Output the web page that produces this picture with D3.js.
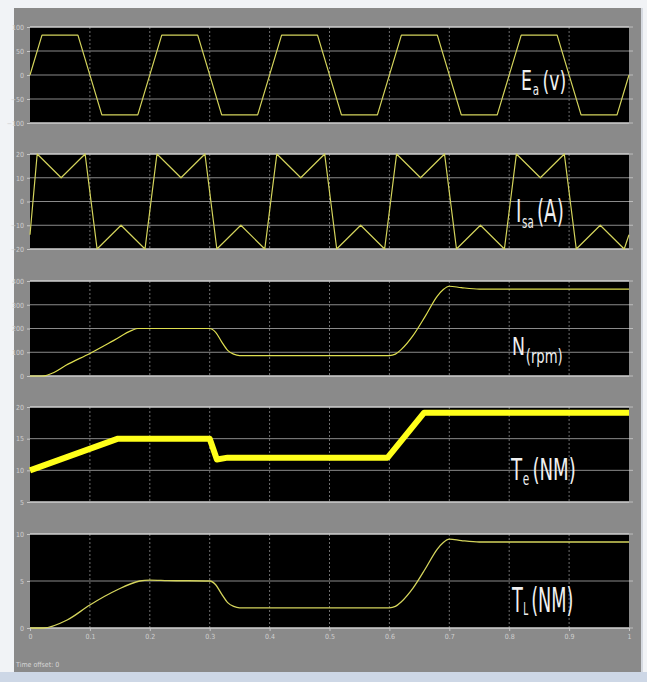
<!DOCTYPE html>
<html>
<head>
<meta charset="utf-8">
<script src="https://cdn.jsdelivr.net/npm/d3@7"></script>
<style>
  html, body { margin: 0; padding: 0; background: #ffffff; }
  svg { display: block; }
</style>
</head>
<body>
<div id="chart"></div>
<script>
// time grid of the scope (s)
const timeTicks = [0, 0.1, 0.2, 0.3, 0.4, 0.5, 0.6, 0.7, 0.8, 0.9, 1];
const timeLabels = ["0", "0.1", "0.2", "0.3", "0.4", "0.5", "0.6", "0.7", "0.8", "0.9", "1"];

// Back EMF Ea (V)
const eaTime = [0, 0.02, 0.08, 0.12, 0.18, 0.22, 0.28, 0.32, 0.38, 0.42, 0.48, 0.52, 0.58, 0.62, 0.68, 0.72, 0.78, 0.82, 0.88, 0.92, 0.98, 1.0];
const eaValue = [0, 83, 83, -83, -83, 83, 83, -83, -83, 83, 83, -83, -83, 83, 83, -83, -83, 83, 83, -83, -83, 0];

// Phase current Isa (A)
const isaTime = [0, 0.012, 0.052, 0.092, 0.112, 0.152, 0.192, 0.212, 0.252, 0.292, 0.312, 0.352, 0.392,
  0.412, 0.452, 0.492, 0.512, 0.552, 0.592, 0.612, 0.652, 0.692, 0.712, 0.752, 0.792,
  0.812, 0.852, 0.892, 0.912, 0.952, 0.992, 1.0];
const isaValue = [-14, 20, 10, 20, -20, -10, -20, 20, 10, 20, -20, -10, -20,
  20, 10, 20, -20, -10, -20, 20, 10, 20, -20, -10, -20,
  20, 10, 20, -20, -10, -20, -14];

// Speed N (rpm)
const nTime = [0, 0.02, 0.04, 0.06, 0.1, 0.14, 0.17, 0.18, 0.3, 0.31, 0.32, 0.33, 0.34, 0.35, 0.6, 0.61, 0.62, 0.64, 0.66, 0.68, 0.69, 0.7, 0.72, 0.75, 1.0];
const nValue = [0, 0, 15, 45, 95, 150, 192, 200, 200, 184, 144, 108, 92, 86, 86, 92, 112, 172, 252, 336, 364, 378, 372, 366, 366];

// Electromagnetic torque Te (NM)
const teTime = [0, 0.147, 0.3, 0.312, 0.33, 0.597, 0.658, 1.0];
const teValue = [10, 15, 15, 11.7, 12, 12, 19.1, 19.1];

// Load torque TL (NM)
const tlTime = [0, 0.022, 0.062, 0.1, 0.145, 0.183, 0.2, 0.23, 0.3, 0.31, 0.32, 0.33, 0.34, 0.35, 0.6, 0.61, 0.62, 0.64, 0.66, 0.68, 0.69, 0.7, 0.72, 0.75, 1.0];
const tlValue = [0, 0, 0.85, 2.45, 4.04, 5.0, 5.1, 5.05, 5.0, 4.6, 3.6, 2.7, 2.3, 2.15, 2.15, 2.3, 2.8, 4.3, 6.3, 8.4, 9.1, 9.45, 9.3, 9.15, 9.15];

// y tick labels per panel
const eaTicks = [100, 50, 0, -50, -100];
const isaTicks = [20, 10, 0, -10, -20];
const nTicks = [400, 300, 200, 100, 0];
const teTicks = [20, 15, 10, 5];
const tlTicks = [10, 5, 0];

const W = 647, H = 682;
const x0 = 30, x1 = 629;
const narrow = "'Liberation Sans Narrow', 'DejaVu Sans Condensed', 'Liberation Sans', sans-serif";

const svg = d3.select("#chart").append("svg")
  .attr("width", W).attr("height", H);

// window background + scope gray area
svg.append("rect").attr("width", W).attr("height", H).attr("fill", "#f1f3f6");
svg.append("rect").attr("x", 0).attr("y", 672).attr("width", W).attr("height", 10).attr("fill", "#cdd7e6");
svg.append("rect").attr("x", 14).attr("y", 8).attr("width", 627).attr("height", 664).attr("fill", "#8a8a8a");
svg.append("rect").attr("x", 641).attr("y", 8).attr("width", 2).attr("height", 664).attr("fill", "#d6dae1");

const x = d3.scaleLinear().domain([0, 1]).range([x0, x1]);

const panels = [
  { top: 27, bottom: 123, domain: [-100, 100], ticks: eaTicks, t: eaTime, v: eaValue, width: 1.2, color: "#d4d45c",
    label: { main: "E", sub: "a", rest: "(v)", x: 521, y: 90, fs: 27, sfs: 16, sdy: 5, w: 41 } },
  { top: 154, bottom: 249, domain: [-20, 20], ticks: isaTicks, t: isaTime, v: isaValue, width: 1.2, color: "#d4d45c",
    label: { main: "I", sub: "sa", rest: "(A)", x: 516, y: 222, fs: 32, sfs: 18, sdy: 6, w: 44 } },
  { top: 281, bottom: 376, domain: [0, 400], ticks: nTicks, t: nTime, v: nValue, width: 1.2, color: "#dede50",
    label: { main: "N", sub: "(rpm)", rest: "", x: 512, y: 355, fs: 25, sfs: 19, sdy: 8, w: 50 } },
  { top: 407, bottom: 502, domain: [5, 20], ticks: teTicks, t: teTime, v: teValue, width: 6, color: "#ffff1a",
    label: { main: "T", sub: "e", rest: "(NM)", x: 511, y: 480, fs: 31, sfs: 18, sdy: 5, w: 61 } },
  { top: 534, bottom: 628, domain: [0, 10], ticks: tlTicks, t: tlTime, v: tlValue, width: 1.3, color: "#d4d45c",
    label: { main: "T", sub: "L", rest: "(NM)", x: 512, y: 612, fs: 34, sfs: 17, sdy: 3, w: 58 } }
];

panels.forEach((p, i) => {
  const y = d3.scaleLinear().domain(p.domain).range([p.bottom, p.top]);
  const g = svg.append("g");

  g.append("rect")
    .attr("x", x0).attr("y", p.top)
    .attr("width", x1 - x0).attr("height", p.bottom - p.top)
    .attr("fill", "#000");

  // horizontal grid
  g.selectAll(".hg").data(p.ticks.slice(1, -1)).enter().append("line")
    .attr("x1", x0).attr("x2", x1)
    .attr("y1", d => y(d)).attr("y2", d => y(d))
    .attr("stroke", "#8a8a8a").attr("stroke-width", 1);

  // vertical grid (dotted, faint)
  g.selectAll(".vg").data(timeTicks.slice(1, -1)).enter().append("line")
    .attr("x1", d => x(d)).attr("x2", d => x(d))
    .attr("y1", p.top).attr("y2", p.bottom)
    .attr("stroke", "#6e6e6e").attr("stroke-width", 1)
    .attr("stroke-dasharray", "2,2");

  // frame lines
  g.append("line").attr("x1", x0).attr("x2", x1).attr("y1", p.top).attr("y2", p.top)
    .attr("stroke", "#cfcfcf").attr("stroke-width", 1.5);
  g.append("line").attr("x1", x0).attr("x2", x1).attr("y1", p.bottom).attr("y2", p.bottom)
    .attr("stroke", "#cfcfcf").attr("stroke-width", 1.5);

  // left axis
  const ax = g.append("g").attr("transform", `translate(${x0},0)`)
    .call(d3.axisLeft(y).tickValues(p.ticks).tickSize(3).tickFormat(d3.format("d")));
  ax.select(".domain").remove();
  ax.selectAll("line").attr("stroke", "#c8c8c8");
  ax.selectAll("text").attr("fill", "#cfcfcf").style("font-size", "7px").style("font-family", narrow);

  // right tick stubs
  g.selectAll(".rt").data(p.ticks).enter().append("line")
    .attr("x1", x1).attr("x2", x1 + 4)
    .attr("y1", d => y(d)).attr("y2", d => y(d))
    .attr("stroke", "#bdbdbd");

  // signal
  const pts = p.t.map((t, k) => [t, p.v[k]]);
  const line = d3.line().x(d => x(d[0])).y(d => y(d[1]));
  if (i === 2 || i === 4) line.curve(d3.curveMonotoneX);
  g.append("path").datum(pts)
    .attr("fill", "none")
    .attr("stroke", p.color)
    .attr("stroke-width", p.width)
    .attr("stroke-linejoin", "round")
    .attr("d", line);

  // white condensed label, squeezed to the width seen in the scope
  const lb = p.label;
  const lg = g.append("g");
  const txt = lg.append("text")
    .attr("fill", "#f0f0f0")
    .style("font-family", narrow)
    .style("font-size", lb.fs + "px");
  txt.append("tspan").text(lb.main);
  txt.append("tspan").attr("dy", lb.sdy).attr("dx", 1).style("font-size", lb.sfs + "px").text(lb.sub);
  if (lb.rest) txt.append("tspan").attr("dy", -lb.sdy).attr("dx", 5).text(lb.rest);
  const len = txt.node().getComputedTextLength();
  lg.attr("transform", `translate(${lb.x},${lb.y}) scale(${lb.w / len},1)`);
});

// x axis under the last panel
const xa = svg.append("g").attr("transform", `translate(0,628)`)
  .call(d3.axisBottom(x).tickValues(timeTicks).tickSize(3).tickFormat((d, k) => timeLabels[k]));
xa.select(".domain").remove();
xa.selectAll("line").attr("stroke", "#c8c8c8");
xa.selectAll("text").attr("fill", "#cfcfcf").style("font-size", "7px").style("font-family", narrow);

svg.append("text")
  .attr("x", 16).attr("y", 667)
  .attr("fill", "#d6d6d6")
  .style("font-size", "7px")
  .style("font-family", narrow)
  .text("Time offset: 0");
</script>
</body>
</html>
